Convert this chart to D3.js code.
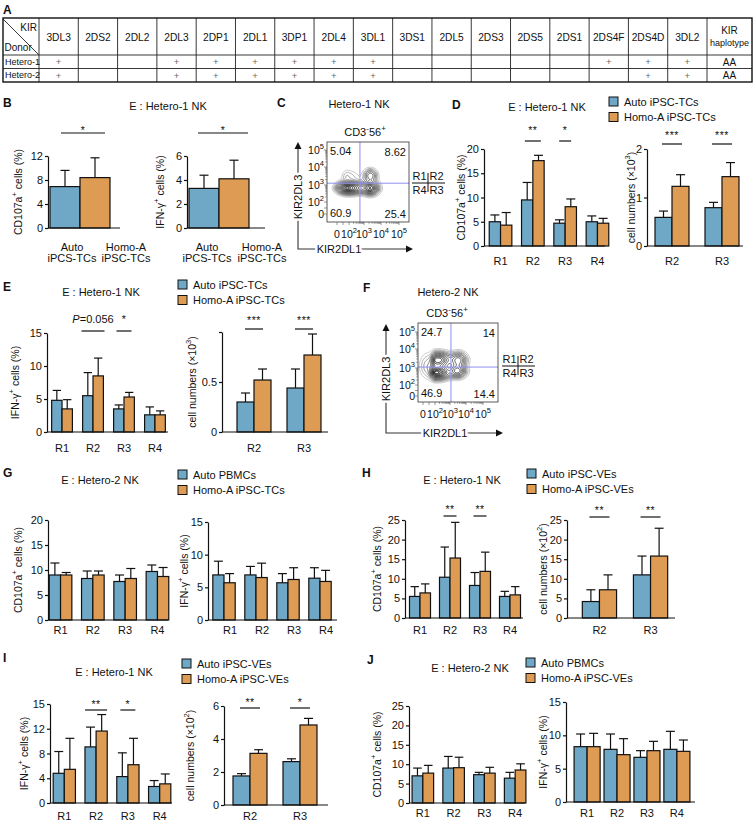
<!DOCTYPE html>
<html>
<head>
<meta charset="utf-8">
<script src="https://cdn.jsdelivr.net/npm/d3@7"></script>
<style>
  body { margin: 0; background: #fff; }
  svg { display: block; }
</style>
</head>
<body>
<script>
// ---------- data ----------
// A: KIR genotype table
var kirGenes = ["3DL3","2DS2","2DL2","2DL3","2DP1","2DL1","3DP1","2DL4","3DL1","3DS1","2DL5","2DS3","2DS5","2DS1","2DS4F","2DS4D","3DL2"];
var donors = ["Hetero-1", "Hetero-2"];
var hetero1Genes = [1,0,0,1,1,1,1,1,1,0,0,0,0,0,1,1,1];
var hetero2Genes = [1,0,0,1,1,1,1,1,1,0,0,0,0,0,0,1,1];
var haplotypes = ["AA", "AA"];

var regions4 = ["R1", "R2", "R3", "R4"];
var regions2 = ["R2", "R3"];
var bCats = ["Auto", "Homo-A"];
var bCatLabels = [["Auto", "iPCS-TCs"], ["Homo-A", "iPSC-TCs"]];

// B
var bCd107Mean = [6.9, 8.4], bCd107Sd = [2.7, 3.3];
var bIfnMean = [3.3, 4.1], bIfnSd = [1.1, 1.55];
// D
var dCd107Auto = [5.0, 9.5, 4.7, 5.0], dCd107AutoSd = [1.4, 3.6, 0.7, 1.2];
var dCd107Homo = [4.3, 17.6, 8.1, 4.7], dCd107HomoSd = [2.6, 1.1, 1.6, 1.0];
var dCd107Sig = ["", "**", "*", ""];
var dCellAuto = [0.59, 0.79], dCellAutoSd = [0.13, 0.11];
var dCellHomo = [1.23, 1.43], dCellHomoSd = [0.24, 0.29];
var dCellSig = ["***", "***"];
// E
var eIfnAuto = [4.8, 5.5, 3.5, 2.6], eIfnAutoSd = [1.5, 3.5, 0.6, 1.2];
var eIfnHomo = [3.5, 8.5, 5.3, 2.6], eIfnHomoSd = [1.4, 2.7, 0.7, 0.6];
var eIfnSig = ["", "P=0.056", "*", ""];
var eCellAuto = [0.30, 0.44], eCellAutoSd = [0.09, 0.19];
var eCellHomo = [0.52, 0.77], eCellHomoSd = [0.11, 0.21];
var eCellSig = ["***", "***"];
// G
var gCd107Auto = [9.0, 8.3, 7.7, 9.7], gCd107AutoSd = [2.4, 1.5, 1.3, 1.3];
var gCd107Homo = [9.0, 9.0, 8.3, 8.7], gCd107HomoSd = [0.5, 0.8, 2.0, 1.8];
var gIfnAuto = [6.9, 6.9, 5.7, 6.4], gIfnAutoSd = [2.1, 1.3, 1.4, 1.6];
var gIfnHomo = [5.7, 6.5, 6.2, 5.9], gIfnHomoSd = [1.4, 2.2, 1.8, 1.7];
// H
var hCd107Auto = [5.5, 10.4, 8.3, 5.5], hCd107AutoSd = [2.5, 7.7, 3.3, 1.3];
var hCd107Homo = [6.4, 15.3, 11.9, 5.9], hCd107HomoSd = [2.3, 9.1, 4.9, 2.1];
var hCd107Sig = ["", "**", "**", ""];
var hCellAuto = [4.2, 11.0], hCellAutoSd = [3.0, 4.8];
var hCellHomo = [7.2, 15.8], hCellHomoSd = [3.8, 7.1];
var hCellSig = ["**", "**"];
// I
var iIfnAuto = [4.5, 8.5, 4.0, 2.5], iIfnAutoSd = [3.3, 3.0, 3.6, 0.9];
var iIfnHomo = [5.1, 10.9, 5.8, 2.9], iIfnHomoSd = [4.7, 2.5, 4.0, 1.5];
var iIfnSig = ["", "**", "*", ""];
var iIfnTicks = [0, 3.75, 7.5, 11.25, 15], iIfnTickText = ["0", "4", "8", "12", "15"];
var iCellAuto = [1.76, 2.63], iCellAutoSd = [0.14, 0.17];
var iCellHomo = [3.13, 4.85], iCellHomoSd = [0.22, 0.4];
var iCellSig = ["**", "*"];
// J
var jCd107Auto = [7.0, 9.0, 7.3, 6.4], jCd107AutoSd = [2.0, 3.0, 0.6, 1.5];
var jCd107Homo = [7.7, 9.1, 7.7, 8.5], jCd107HomoSd = [2.0, 2.7, 1.5, 1.6];
var jIfnAuto = [8.3, 7.9, 6.7, 7.9], jIfnAutoSd = [1.9, 2.3, 1.0, 2.7];
var jIfnHomo = [8.3, 7.1, 7.7, 7.6], jIfnHomoSd = [2.0, 2.4, 1.4, 1.7];

// flow plots: populations [KIR2DL1 decade, KIR2DL3 decade, spread x, spread y, weight]
var flowTicks = [0, 2, 3, 4, 5];
var cPops = [[1.9, 2.8, 0.7, 0.21, 1.0], [0.8, 2.8, 0.7, 0.19, 0.5], [3.35, 2.8, 0.27, 0.23, 0.85],
             [3.35, 3.5, 0.23, 0.21, 0.4], [1.7, 3.45, 0.55, 0.22, 0.12]];
var cGate = [2.73, 3.1];
var cQuad = ["5.04", "8.62", "60.9", "25.4"];
var fPops = [[2.1, 2.7, 0.5, 0.23, 1.0], [2.2, 3.4, 0.48, 0.23, 0.8], [3.5, 3.4, 0.3, 0.23, 0.5],
             [3.45, 2.8, 0.3, 0.23, 0.6], [0.8, 3.05, 0.8, 0.4, 0.15]];
var fGate = [3.06, 3.05];
var fQuad = ["24.7", "14", "46.9", "14.4"];

// ---------- setup ----------
var blue = "#6fa8c6", orange = "#dd9b54", ink = "#111";
var svg = d3.select("body").append("svg").attr("width", 755).attr("height", 823)
  .attr("font-family", "'Liberation Sans', Arial, sans-serif");

// text with ^{sup} parts
function rich(t, str, fs) {
  var up = false;
  str.split(/(\^\{[^}]*\})/).forEach(function(p) {
    if (!p) return;
    var m = p.match(/^\^\{(.*)\}$/);
    var s = t.append("tspan");
    if (m) { s.attr("dy", up ? 0 : -fs * 0.38).attr("font-size", fs * 0.72).text(m[1]); up = true; }
    else { s.attr("dy", up ? fs * 0.38 : 0).text(p); up = false; }
  });
  return t;
}
function label(g, x, y, str, fs, anchor) {
  var t = g.append("text").attr("x", x).attr("y", y).attr("font-size", fs)
    .attr("text-anchor", anchor || "middle").attr("dominant-baseline", "central").attr("fill", ink);
  return rich(t, str, fs);
}
function letter(ch, x, y) {
  svg.append("text").attr("x", x).attr("y", y).attr("font-size", 12).attr("font-weight", "bold")
    .attr("dominant-baseline", "central").attr("fill", ink).text(ch);
}
function legend(x, y, items) {
  var g = svg.append("g");
  items.forEach(function(it, i) {
    g.append("rect").attr("x", x).attr("y", y + i * 15.5).attr("width", 9).attr("height", 9)
      .attr("fill", it[1]).attr("stroke", ink).attr("stroke-width", 1);
    label(g, x + 15, y + i * 15.5 + 4.5, it[0], 11, "start");
  });
}

// ---------- A table ----------
function drawTable() {
  var g = svg.append("g").attr("fill", ink);
  var x0 = 3, x1 = 752, y0 = 18, yh = 55, rowH = 13.5, donorW = 36, hapW = 45;
  var gx = d3.scaleBand().domain(kirGenes).range([x0 + donorW, x1 - hapW]);
  var ry = d3.scaleBand().domain(donors).range([yh, yh + donors.length * rowH]);
  var yb = yh + donors.length * rowH;
  var lines = g.append("g").attr("stroke", "#222").attr("stroke-width", 0.9);
  var vx = [x0 + donorW].concat(kirGenes.map(function(d) { return gx(d) + gx.bandwidth(); }));
  vx.forEach(function(v) { lines.append("line").attr("x1", v).attr("x2", v).attr("y1", y0).attr("y2", yb); });
  donors.forEach(function(d) { lines.append("line").attr("x1", x0).attr("x2", x1).attr("y1", ry(d)).attr("y2", ry(d)); });
  lines.append("line").attr("x1", x0).attr("x2", x0 + donorW).attr("y1", y0 + 1).attr("y2", yh);
  g.append("rect").attr("x", x0).attr("y", y0).attr("width", x1 - x0).attr("height", yb - y0)
    .attr("fill", "none").attr("stroke", "#111").attr("stroke-width", 1.4);
  label(g, x0 + donorW - 2, y0 + 9, "KIR", 10, "end");
  label(g, x0 + 1.5, yh - 8, "Donor", 10, "start");
  kirGenes.forEach(function(k) { label(g, gx(k) + gx.bandwidth() / 2, (y0 + yh) / 2, k, 10.2); });
  label(g, x1 - hapW / 2, (y0 + yh) / 2 - 6.5, "KIR", 10);
  label(g, x1 - hapW / 2, (y0 + yh) / 2 + 6.5, "haplotype", 9);
  [hetero1Genes, hetero2Genes].forEach(function(arr, r) {
    var cy = ry(donors[r]) + rowH / 2;
    label(g, x0 + 2, cy, donors[r], 9, "start");
    arr.forEach(function(v, i) {
      if (v) g.append("text").attr("x", gx(kirGenes[i]) + gx.bandwidth() / 2).attr("y", cy)
        .attr("text-anchor", "middle").attr("dominant-baseline", "central")
        .attr("font-size", 9.5).attr("fill", "#666").text("+");
    });
    label(g, x1 - hapW / 2, cy, haplotypes[r], 10);
  });
}

// ---------- bar charts ----------
function sigText(g, x, y, t) {
  var s = g.append("text").attr("x", x).attr("y", y).attr("text-anchor", "middle")
    .attr("font-size", 10.5).attr("fill", ink);
  if (t.indexOf("P=") === 0) {
    s.attr("font-size", 11);
    s.append("tspan").attr("font-style", "italic").text("P");
    s.append("tspan").text(t.slice(1));
  } else s.attr("letter-spacing", 0.5).text(t);
}

function barChart(o) {
  var g = svg.append("g");
  var y = d3.scaleLinear().domain([0, o.max]).range([o.base, o.top]);
  var x = d3.scaleBand().domain(o.cats).range(o.range).paddingInner(o.pi).paddingOuter(o.po);
  var sub = d3.scaleBand().domain(d3.range(o.series.length)).range([0, x.bandwidth()]);
  var bw = sub.bandwidth(), cap = Math.min(4.5, bw * 0.4);
  o.series.forEach(function(s, k) {
    var rows = o.cats.map(function(c, i) {
      return {c: c, m: s.mean[i], e: s.sd[i], col: Array.isArray(s.color) ? s.color[i] : s.color};
    });
    var cx = function(d) { return x(d.c) + sub(k) + bw / 2; };
    g.append("g").selectAll("rect").data(rows).join("rect")
      .attr("x", function(d) { return x(d.c) + sub(k); })
      .attr("y", function(d) { return y(d.m); })
      .attr("width", bw)
      .attr("height", function(d) { return y(0) - y(d.m); })
      .attr("fill", function(d) { return d.col; })
      .attr("stroke", ink).attr("stroke-width", 1.2);
    var eg = g.append("g").attr("stroke", ink).attr("stroke-width", 1.2);
    eg.selectAll(".stem").data(rows).join("line").attr("class", "stem")
      .attr("x1", cx).attr("x2", cx)
      .attr("y1", function(d) { return y(d.m); })
      .attr("y2", function(d) { return y(d.m + d.e); });
    eg.selectAll(".cap").data(rows).join("line").attr("class", "cap")
      .attr("x1", function(d) { return cx(d) - cap; })
      .attr("x2", function(d) { return cx(d) + cap; })
      .attr("y1", function(d) { return y(d.m + d.e); })
      .attr("y2", function(d) { return y(d.m + d.e); });
  });

  var ax = g.append("g").attr("transform", "translate(" + o.x0 + ",0)")
    .call(d3.axisLeft(y).tickValues(o.ticks).tickSize(3).tickSizeOuter(0).tickPadding(2)
      .tickFormat(function(d, i) { return o.tickText ? o.tickText[i] : d; }));
  ax.attr("font-family", null).attr("font-size", 11);
  ax.selectAll("path, line").attr("stroke", ink).attr("stroke-width", 1.2);
  ax.selectAll("text").attr("fill", ink);
  g.append("line").attr("x1", o.x0).attr("x2", o.x1).attr("y1", o.base).attr("y2", o.base)
    .attr("stroke", ink).attr("stroke-width", 1.2);

  var center = function(c) { return x(c) + x.bandwidth() / 2; };
  var lx = o.labelPos ? d3.scalePoint().domain(o.cats).range(o.labelPos)
                      : function(c) { return center(c) + (o.labelShift || 0); };
  o.cats.forEach(function(c, i) {
    var lines = o.catLabels ? o.catLabels[i] : [c];
    lines.forEach(function(l, j) { label(g, lx(c), o.xlabelY + j * 10.5, l, 11); });
  });

  var sg = g.append("g");
  if (o.sigAcross) {
    var a = center(o.cats[0]) - o.sigPad[0], b = center(o.cats[o.cats.length - 1]) + o.sigPad[1];
    sg.append("line").attr("x1", a).attr("x2", b).attr("y1", o.sigY).attr("y2", o.sigY)
      .attr("stroke", ink).attr("stroke-width", 1.2);
    sigText(sg, (a + b) / 2, o.sigY + o.starDy, o.sigAcross);
  } else if (o.sig) {
    o.cats.forEach(function(c, i) {
      if (!o.sig[i]) return;
      var pad = Array.isArray(o.sigPad) ? o.sigPad[i] : o.sigPad;
      sg.append("line").attr("x1", center(c) - pad).attr("x2", center(c) + pad)
        .attr("y1", o.sigY).attr("y2", o.sigY).attr("stroke", ink).attr("stroke-width", 1.2);
      sigText(sg, center(c), o.sigY + o.starDy, o.sig[i]);
    });
  }

  var yl = g.append("text").attr("transform", "translate(" + o.ylabelX + "," + (o.top + o.base) / 2 + ") rotate(-90)")
    .attr("text-anchor", "middle").attr("dominant-baseline", "central").attr("font-size", 10.5).attr("fill", ink);
  rich(yl, o.ylabel, 10.5);
}

function pairSeries(m1, s1, m2, s2) {
  return [{mean: m1, sd: s1, color: blue}, {mean: m2, sd: s2, color: orange}];
}

// ---------- flow plots ----------
function flowPlot(o) {
  var g = svg.append("g");
  var xs = d3.scaleLinear().domain(flowTicks).range(o.xr);
  var ys = d3.scaleLinear().domain(flowTicks).range(o.yr);
  var b = o.box;
  g.append("clipPath").attr("id", o.id).append("rect")
    .attr("x", b[0]).attr("y", b[1]).attr("width", b[2] - b[0]).attr("height", b[3] - b[1]);

  var n = 140, lo = -1.5, hi = 6, step = (hi - lo) / n;
  var vals = new Float64Array(n * n);
  for (var j = 0; j < n; j++) for (var i = 0; i < n; i++) {
    var xd = lo + i * step, yd = lo + j * step, v = 0;
    o.pops.forEach(function(p) {
      var dx = (xd - p[0]) / p[2], dy = (yd - p[1]) / p[3];
      v += p[4] * Math.exp(-0.5 * (dx * dx + dy * dy));
    });
    vals[j * n + i] = v;
  }
  var vmax = d3.max(vals);
  var fr = [0.03, 0.06, 0.1, 0.15, 0.21, 0.28, 0.36, 0.45, 0.54, 0.63, 0.72, 0.81, 0.9, 0.96];
  var polys = d3.contours().size([n, n]).thresholds(fr.map(function(f) { return f * vmax; }))(vals);
  var proj = d3.geoTransform({point: function(px, py) {
    this.stream.point(xs(lo + px * step), ys(lo + py * step));
  }});
  var path = d3.geoPath(proj);
  var shade = d3.scaleLinear().domain([0, 3, polys.length - 1]).range(["#b8b8b8", "#555", "#000"]);
  g.append("g").attr("clip-path", "url(#" + o.id + ")").selectAll("path").data(polys).join("path")
    .attr("d", path).attr("fill", "none")
    .attr("stroke", function(d, i) { return shade(i); }).attr("stroke-width", 0.8);

  // gates
  g.append("line").attr("x1", xs(o.gate[0])).attr("x2", xs(o.gate[0])).attr("y1", b[1]).attr("y2", b[3])
    .attr("stroke", "#8e8ef0").attr("stroke-width", 1);
  g.append("line").attr("x1", b[0]).attr("x2", b[2]).attr("y1", ys(o.gate[1])).attr("y2", ys(o.gate[1]))
    .attr("stroke", "#8e8ef0").attr("stroke-width", 1);
  g.append("rect").attr("x", b[0]).attr("y", b[1]).attr("width", b[2] - b[0]).attr("height", b[3] - b[1])
    .attr("fill", "none").attr("stroke", "#333").attr("stroke-width", 0.8);

  // ticks on box edges
  var minor = [];
  [2, 3, 4].forEach(function(k) { d3.range(1, 10).forEach(function(m) { minor.push(k + Math.log10(m)); }); });
  minor.push(5);
  var tg = g.append("g").attr("stroke", "#555").attr("stroke-width", 0.6);
  minor.concat([0, 1]).forEach(function(t) {
    var len = Number.isInteger(t) ? 3 : 1.8;
    tg.append("line").attr("x1", xs(t)).attr("x2", xs(t)).attr("y1", b[3]).attr("y2", b[3] + len);
    tg.append("line").attr("x1", b[0]).attr("x2", b[0] - len).attr("y1", ys(t)).attr("y2", ys(t));
  });

  flowTicks.forEach(function(t) {
    var s = t === 0 ? "0" : "10^{" + t + "}";
    label(g, b[0] - 3, ys(t), s, 10.5, "end");
    label(g, xs(t), b[3] + 11.5, s, 10.5);
  });

  label(g, b[0] + 3, b[1] + 9, o.quad[0], 11, "start");
  label(g, b[2] - 3, b[1] + 10, o.quad[1], 11, "end");
  label(g, b[0] + 3, b[3] - 9, o.quad[2], 11, "start");
  label(g, b[2] - 3, b[3] - 8, o.quad[3], 11, "end");

  label(g, o.title[0], o.title[1], o.title[2], 11);
  label(g, o.sub[0], o.sub[1], "CD3^{-}56^{+}", 11);

  // arrow axes
  var a = o.arrow;
  g.append("path").attr("d", "M" + a.x + "," + (a.top + 6) + "V" + a.bottom + "H" + (a.right - 6))
    .attr("fill", "none").attr("stroke", "#333").attr("stroke-width", 1.1);
  g.append("path").attr("d", "M" + (a.x - 3.5) + "," + (a.top + 7) + "L" + a.x + "," + a.top + "L" + (a.x + 3.5) + "," + (a.top + 7) + "Z")
    .attr("fill", "#111");
  g.append("path").attr("d", "M" + (a.right - 7) + "," + (a.bottom - 3.5) + "L" + a.right + "," + a.bottom + "L" + (a.right - 7) + "," + (a.bottom + 3.5) + "Z")
    .attr("fill", "#111");
  g.append("text").attr("transform", "translate(" + a.x + "," + a.yMid + ") rotate(-90)")
    .attr("text-anchor", "middle").attr("dominant-baseline", "central").attr("font-size", 11)
    .attr("stroke", "#fff").attr("stroke-width", 5).attr("paint-order", "stroke").attr("fill", ink).text("KIR2DL3");
  g.append("text").attr("x", a.xMid).attr("y", a.bottom)
    .attr("text-anchor", "middle").attr("dominant-baseline", "central").attr("font-size", 11)
    .attr("stroke", "#fff").attr("stroke-width", 5).attr("paint-order", "stroke").attr("fill", ink).text("KIR2DL1");

  // region key
  var r = o.key, rk = g.append("g").attr("stroke", ink).attr("stroke-width", 1);
  rk.append("line").attr("x1", r[0] - 16).attr("x2", r[0] + 17).attr("y1", r[1]).attr("y2", r[1]);
  rk.append("line").attr("x1", r[0]).attr("x2", r[0]).attr("y1", r[1] - 10).attr("y2", r[1] + 9);
  label(g, r[0] - 1.5, r[1] - 7, "R1", 11, "end");
  label(g, r[0] + 1.5, r[1] - 7, "R2", 11, "start");
  label(g, r[0] - 1.5, r[1] + 7, "R4", 11, "end");
  label(g, r[0] + 1.5, r[1] + 7, "R3", 11, "start");
}

// ---------- draw ----------
letter("A", 3, 10);
drawTable();

// B
letter("B", 3, 103);
label(svg, 168, 106, "E : Hetero-1 NK", 11);
barChart({x0: 48, x1: 120, top: 156, base: 228, max: 12, ticks: [0, 4, 8, 12], cats: bCats,
  series: [{mean: bCd107Mean, sd: bCd107Sd, color: [blue, orange]}],
  range: [50, 110], pi: 0, po: 0, catLabels: bCatLabels, labelPos: [72, 126], xlabelY: 247,
  sigAcross: "*", sigPad: [4, 10], sigY: 133, starDy: 1, ylabel: "CD107a^{+} cells (%)", ylabelX: 18});
barChart({x0: 187, x1: 265, top: 156, base: 228, max: 6, ticks: [0, 2, 4, 6], cats: bCats,
  series: [{mean: bIfnMean, sd: bIfnSd, color: [blue, orange]}],
  range: [189, 249], pi: 0, po: 0, catLabels: bCatLabels, labelPos: [207, 262], xlabelY: 247,
  sigAcross: "*", sigPad: [6, 14], sigY: 133, starDy: 1, ylabel: "IFN-\u03b3^{+} cells (%)", ylabelX: 160});

// C
letter("C", 277, 103);
flowPlot({id: "clipC", box: [327, 142, 409, 222], xr: [337, 349, 364, 381, 399], yr: [214, 202, 185, 167, 150],
  pops: cPops, gate: cGate, quad: cQuad, title: [359, 104, "Hetero-1 NK"], sub: [365, 132],
  arrow: {x: 298, top: 142, bottom: 249, right: 413, yMid: 197, xMid: 339}, key: [428, 183]});

// D
letter("D", 452, 105);
label(svg, 547, 107, "E : Hetero-1 NK", 11);
legend(609, 97, [["Auto iPSC-TCs", blue], ["Homo-A iPSC-TCs", orange]]);
barChart({x0: 484, x1: 605, top: 149, base: 246, max: 20, ticks: [0, 5, 10, 15, 20], cats: regions4,
  series: pairSeries(dCd107Auto, dCd107AutoSd, dCd107Homo, dCd107HomoSd),
  range: [486, 612], pi: 0.3, po: 0.1, xlabelY: 261,
  sig: dCd107Sig, sigPad: [0, 8, 6, 0], sigY: 141, starDy: -7, ylabel: "CD107a^{+} cells (%)", ylabelX: 461});
barChart({x0: 647, x1: 743, top: 149, base: 246, max: 2, ticks: [0, 1, 2], cats: regions2,
  series: pairSeries(dCellAuto, dCellAutoSd, dCellHomo, dCellHomoSd),
  range: [647, 747], pi: 0.32, po: 0.16, xlabelY: 261,
  sig: dCellSig, sigPad: 10, sigY: 144, starDy: -5, ylabel: "cell numbers (\u00d710^{3})", ylabelX: 631});

// E
letter("E", 3, 287);
label(svg, 101, 292, "E : Hetero-1 NK", 11);
legend(178, 280, [["Auto iPSC-TCs", blue], ["Homo-A iPSC-TCs", orange]]);
barChart({x0: 47, x1: 168, top: 333, base: 432, max: 15, ticks: [0, 5, 10, 15], cats: regions4,
  series: pairSeries(eIfnAuto, eIfnAutoSd, eIfnHomo, eIfnHomoSd),
  range: [47, 170], pi: 0.33, po: 0.15, xlabelY: 448,
  sig: eIfnSig, sigPad: [0, 11.5, 7.5, 0], sigY: 331, starDy: -8, ylabel: "IFN-\u03b3^{+} cells (%)", ylabelX: 15});
barChart({x0: 222, x1: 328, top: 332, base: 432, max: 1, ticks: [0, 0.5, 1], tickText: ["0", "0.5", ""], cats: regions2,
  series: pairSeries(eCellAuto, eCellAutoSd, eCellHomo, eCellHomoSd),
  range: [222, 336], pi: 0.32, po: 0.3, xlabelY: 448,
  sig: eCellSig, sigPad: 9, sigY: 329, starDy: -5, ylabel: "cell numbers (\u00d710^{3})", ylabelX: 192});

// F
letter("F", 363, 288);
flowPlot({id: "clipF", box: [418, 323, 498, 402], xr: [423, 435, 450, 466, 483], yr: [396, 385, 368, 349, 332],
  pops: fPops, gate: fGate, quad: fQuad, title: [448, 292, "Hetero-2 NK"], sub: [447, 313],
  arrow: {x: 386, top: 324, bottom: 433, right: 503, yMid: 379, xMid: 445}, key: [518, 366]});

// G
letter("G", 3, 473);
label(svg, 100, 480, "E : Hetero-2 NK", 11);
legend(178, 470, [["Auto PBMCs", blue], ["Homo-A iPSC-TCs", orange]]);
barChart({x0: 48, x1: 168, top: 520, base: 620, max: 20, ticks: [0, 5, 10, 15, 20], cats: regions4,
  series: pairSeries(gCd107Auto, gCd107AutoSd, gCd107Homo, gCd107HomoSd),
  range: [46, 172], pi: 0.3, po: 0.1, xlabelY: 630, ylabel: "CD107a^{+} cells (%)", ylabelX: 18});
barChart({x0: 208, x1: 337, top: 522, base: 620, max: 15, ticks: [0, 5, 10, 15], cats: regions4,
  series: pairSeries(gIfnAuto, gIfnAutoSd, gIfnHomo, gIfnHomoSd),
  range: [208, 336], pi: 0.3, po: 0.15, xlabelY: 630, labelShift: 6, ylabel: "IFN-\u03b3^{+} cells (%)", ylabelX: 184});

// H
letter("H", 362, 473);
label(svg, 462, 480, "E : Hetero-1 NK", 11);
legend(527, 469, [["Auto iPSC-VEs", blue], ["Homo-A iPSC-VEs", orange]]);
barChart({x0: 405, x1: 523, top: 520, base: 618, max: 25, ticks: [0, 5, 10, 15, 20, 25], cats: regions4,
  series: pairSeries(hCd107Auto, hCd107AutoSd, hCd107Homo, hCd107HomoSd),
  range: [405, 525], pi: 0.3, po: 0.15, xlabelY: 630,
  sig: hCd107Sig, sigPad: 6.5, sigY: 516, starDy: -3, ylabel: "CD107a^{+} cells (%)", ylabelX: 377});
barChart({x0: 567, x1: 675, top: 520, base: 618, max: 25, ticks: [0, 5, 10, 15, 20, 25], cats: regions2,
  series: pairSeries(hCellAuto, hCellAutoSd, hCellHomo, hCellHomoSd),
  range: [567, 683], pi: 0.33, po: 0.3, xlabelY: 630,
  sig: hCellSig, sigPad: 10, sigY: 517, starDy: -3, ylabel: "cell numbers (\u00d710^{2})", ylabelX: 543});

// I
letter("I", 3, 658);
label(svg, 114, 672, "E : Hetero-1 NK", 11);
legend(182, 659, [["Auto iPSC-VEs", blue], ["Homo-A iPSC-VEs", orange]]);
barChart({x0: 50, x1: 172, top: 704, base: 803, max: 15, ticks: iIfnTicks, tickText: iIfnTickText, cats: regions4,
  series: pairSeries(iIfnAuto, iIfnAutoSd, iIfnHomo, iIfnHomoSd),
  range: [50, 174], pi: 0.3, po: 0.1, xlabelY: 816,
  sig: iIfnSig, sigPad: [0, 11, 7.5, 0], sigY: 710, starDy: -2, ylabel: "IFN-\u03b3^{+} cells (%)", ylabelX: 24});
barChart({x0: 224, x1: 328, top: 706, base: 805, max: 6, ticks: [0, 2, 4, 6], cats: regions2,
  series: pairSeries(iCellAuto, iCellAutoSd, iCellHomo, iCellHomoSd),
  range: [224, 326], pi: 0.32, po: 0.18, xlabelY: 816,
  sig: iCellSig, sigPad: 10, sigY: 708, starDy: -2, ylabel: "cell numbers (\u00d710^{2})", ylabelX: 190});

// J
letter("J", 367, 660);
label(svg, 470, 668, "E : Hetero-2 NK", 11);
legend(526, 658, [["Auto PBMCs", blue], ["Homo-A iPSC-VEs", orange]]);
barChart({x0: 409, x1: 525, top: 706, base: 803, max: 25, ticks: [0, 5, 10, 15, 20, 25], cats: regions4,
  series: pairSeries(jCd107Auto, jCd107AutoSd, jCd107Homo, jCd107HomoSd),
  range: [409, 529], pi: 0.3, po: 0.1, xlabelY: 813, ylabel: "CD107a^{+} cells (%)", ylabelX: 377});
barChart({x0: 566, x1: 695, top: 702, base: 802, max: 15, ticks: [0, 5, 10, 15], cats: regions4,
  series: pairSeries(jIfnAuto, jIfnAutoSd, jIfnHomo, jIfnHomoSd),
  range: [566, 698], pi: 0.13, po: 0.27, xlabelY: 813, ylabel: "IFN-\u03b3^{+} cells (%)", ylabelX: 543});
</script>
</body>
</html>
